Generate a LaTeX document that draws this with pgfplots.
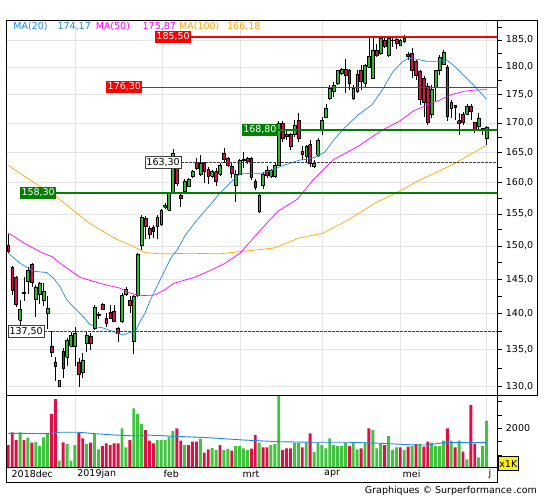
\documentclass[border=0pt]{standalone}
\usepackage{fontspec}
\setmainfont{DejaVu Sans}
\usepackage{pgfplots}
\usepackage{pgfplotstable}
\pgfplotsset{compat=1.18}
\definecolor{cgreen}{RGB}{50,185,50}
\definecolor{cred}{RGB}{214,16,64}
\definecolor{vgreen}{RGB}{64,196,64}
\definecolor{vred}{RGB}{220,16,70}
\definecolor{maA}{RGB}{30,136,229}
\definecolor{maB}{RGB}{255,0,255}
\definecolor{maC}{RGB}{255,165,0}
\definecolor{lvlgreen}{RGB}{0,128,0}
\definecolor{gridc}{RGB}{228,228,228}
\definecolor{dashc}{RGB}{64,64,64}
\newcommand{\fs}{\fontsize{9.5}{11}\selectfont}

\pgfplotstableread{
i o h l c
0 150.1 151.8 149.0 149.2
1 146.8 147.0 142.7 143.4
2 145.3 145.5 141.0 141.4
3 139.1 142.0 138.2 140.6
4 143.1 145.4 141.8 142.9
5 144.7 146.9 142.9 146.3
6 147.3 147.4 143.8 144.6
7 142.1 144.2 139.6 143.9
8 142.8 144.6 141.4 144.4
9 141.9 144.4 141.1 143.2
10 140.1 142.5 137.8 140.8
11 135.5 137.6 134.0 134.6
12 133.3 134.0 130.8 132.7
13 130.1 130.9 130.0 130.8
14 134.7 135.2 131.2 132.5
15 134.0 136.6 132.7 136.3
16 135.5 137.4 135.3 137.0
17 135.4 138.2 132.7 137.3
18 133.3 133.8 130.0 131.6
19 131.9 134.5 131.2 133.6
20 135.9 137.5 134.7 137.0
21 136.9 137.3 135.0 135.9
22 137.9 141.3 137.7 140.9
23 139.8 140.3 139.2 139.9
24 141.4 141.5 140.6 140.7
25 139.4 140.1 138.2 138.7
26 140.2 141.3 139.2 139.4
27 140.4 141.3 138.9 139.0
28 138.0 138.2 136.1 137.3
29 138.9 143.0 138.7 142.6
30 142.8 143.9 142.5 143.5
31 142.0 142.5 140.1 141.2
32 136.2 142.7 134.4 142.5
33 142.6 149.0 142.4 148.7
34 150.1 154.8 149.4 154.4
35 154.3 154.6 151.1 153.0
36 152.7 153.1 151.0 151.8
37 152.9 153.3 151.3 152.2
38 153.1 154.8 151.0 154.5
39 153.4 155.8 153.1 155.5
40 156.0 156.7 155.8 156.4
41 155.6 158.5 155.5 158.3
42 158.4 165.6 158.2 164.8
43 163.2 163.7 159.5 159.9
44 158.0 158.3 156.1 157.5
45 158.6 160.6 158.4 160.2
46 159.4 160.8 159.2 160.5
47 161.0 162.1 160.7 161.8
48 163.3 164.0 162.0 162.4
49 161.4 164.6 161.1 163.2
50 163.2 163.4 160.0 161.8
51 162.2 162.6 159.8 161.0
52 161.0 162.1 160.7 161.8
53 161.8 162.4 159.5 160.2
54 161.4 163.2 161.0 162.8
55 164.9 165.7 163.2 163.8
56 164.0 164.3 162.6 162.9
57 162.7 163.4 160.7 161.5
58 159.6 162.1 156.9 161.3
59 161.4 163.9 161.2 163.6
60 163.7 165.1 162.4 163.8
61 164.0 164.3 163.1 163.5
62 164.0 164.3 160.5 160.8
63 160.2 160.6 158.8 159.2
64 155.4 158.4 155.1 158.0
65 159.5 161.6 159.0 161.3
66 162.0 162.8 160.8 161.2
67 161.0 162.3 160.8 162.0
68 161.0 163.2 160.8 162.9
69 162.9 170.4 162.7 170.0
70 170.0 170.3 166.8 167.4
71 168.1 168.7 167.1 167.7
72 168.0 168.2 165.4 166.0
73 168.0 170.5 167.6 169.6
74 170.4 171.7 166.8 167.3
75 165.2 166.1 163.8 164.7
76 164.3 166.3 163.4 166.0
77 166.3 167.0 162.6 163.2
78 162.6 163.8 162.4 163.2
79 164.5 167.4 164.2 167.1
80 168.8 171.1 168.0 170.5
81 171.0 173.4 170.8 172.6
82 174.4 176.7 174.1 176.1
83 175.5 177.2 174.6 176.7
84 177.0 179.5 176.7 179.3
85 178.8 179.8 178.5 179.6
86 179.6 181.4 175.2 178.5
87 179.4 179.7 175.8 177.0
88 174.4 176.7 174.1 176.1
89 175.5 179.4 175.3 178.7
90 179.4 180.4 175.8 177.3
91 177.0 180.5 176.2 180.2
92 180.0 185.3 180.0 181.9
93 177.9 185.4 177.8 183.1
94 183.1 184.3 181.8 182.2
95 182.5 185.6 182.2 185.3
96 185.0 185.4 183.4 183.8
97 182.2 185.6 181.9 185.3
98 184.9 185.3 183.6 185.0
99 185.1 185.5 183.3 184.4
100 184.1 185.2 183.9 185.0
101 184.7 185.9 184.5 185.3
102 182.4 182.8 181.3 182.0
103 182.5 183.5 177.9 179.4
104 181.0 181.3 177.6 178.5
105 179.1 179.5 173.2 174.1
106 177.9 178.3 171.1 173.7
107 176.4 177.0 169.7 170.2
108 171.5 176.7 170.8 176.0
109 176.3 179.5 173.9 179.3
110 179.3 182.2 178.5 181.7
111 180.5 183.2 180.4 182.7
112 180.0 180.4 170.4 171.1
113 172.5 174.0 170.9 173.7
114 173.1 173.2 170.5 172.7
115 170.4 171.7 167.9 170.0
116 171.5 172.0 169.7 170.2
117 171.5 173.4 171.4 172.9
118 172.9 173.4 170.5 172.0
119 170.1 170.2 168.3 169.0
120 169.4 171.7 168.8 170.8
121 169.1 169.2 168.0 168.7
122 167.4 169.4 166.3 169.2
}\candles

\pgfplotstableread{
i g r
0 nan 1372
1 nan 1850
2 nan 1560
3 1850 nan
4 nan 1560
5 1647 nan
6 nan 1459
7 1485 nan
8 1334 nan
9 1662 nan
10 1812 nan
11 nan 2538
12 nan 3100
13 782 nan
14 nan 1474
15 1410 nan
16 782 nan
17 1372 nan
18 nan 1835
19 nan 1624
20 1410 nan
21 nan 1459
22 1786 nan
23 1210 nan
24 nan 1334
25 nan 1436
26 nan 1372
27 nan 1436
28 nan 1436
29 2000 nan
30 1286 nan
31 nan 1560
32 2752 nan
33 2538 nan
34 2162 nan
35 nan 1936
36 nan 1534
37 nan 1436
38 1560 nan
39 1560 nan
40 1560 nan
41 1684 nan
42 1898 nan
43 nan 2000
44 nan 1534
45 1372 nan
46 nan 1372
47 nan 1496
48 nan 1496
49 1598 nan
50 nan 1083
51 nan 1210
52 1250 nan
53 1184 nan
54 nan 1372
55 1184 nan
56 1222 nan
57 nan 1158
58 1334 nan
59 1334 nan
60 1248 nan
61 1184 nan
62 nan 1233
63 nan 1748
64 1459 nan
65 nan 1286
66 nan 1286
67 1372 nan
68 1410 nan
69 3214 nan
70 nan 1184
71 nan 1248
72 nan 1248
73 1459 nan
74 1459 nan
75 nan 1286
76 1459 nan
77 nan 1812
78 1109 nan
79 1459 nan
80 1372 nan
81 1248 nan
82 1624 nan
83 1372 nan
84 1334 nan
85 1334 nan
86 1459 nan
87 nan 1334
88 1459 nan
89 1210 nan
90 nan 1248
91 1459 nan
92 nan 2000
93 1936 nan
94 1248 nan
95 1436 nan
96 nan 1372
97 1710 nan
98 1184 nan
99 1286 nan
100 nan 1286
101 1184 nan
102 nan 1308
103 1334 nan
104 nan 1410
105 1410 nan
106 nan 1308
107 nan 1496
108 1459 nan
109 1334 nan
110 1334 nan
111 1534 nan
112 nan 2000
113 1534 nan
114 nan 1286
115 1534 nan
116 nan 1120
117 834 nan
118 nan 2876
119 nan 1410
120 910 nan
121 1334 nan
122 2286 nan
}\volumes

\begin{document}
\begin{tikzpicture}
\useasboundingbox (0,0) rectangle (545pt,500pt);
\fill[white] (0,0) rectangle (545pt,500pt);

% ---------------- price panel ----------------
\begin{axis}[
  at={(6.3pt,105pt)}, anchor=south west, scale only axis,
  width=491.4pt, height=375pt,
  xmin=-0.51, xmax=124.85,
  ymode=log, ymin=128.9, ymax=188.8,
  axis line style={black, line width=0.8pt},
  xtick={17.2,39.2,59.3,80.2,100.0,121.9}, xticklabels={},
  major x tick style={draw=none},
  xmajorgrids, ymajorgrids,
  grid style={gridc, line width=0.6pt},
  ytick={130,135,140,145,150,155,160,165,170,175,180,185},
  yticklabels={{130,0},{135,0},{140,0},{145,0},{150,0},{155,0},{160,0},{165,0},{170,0},{175,0},{180,0},{185,0}},
  minor ytick={132.5,137.5,142.5,147.5,152.5,157.5,162.5,167.5,172.5,177.5,182.5,187.5},
  ytick pos=right, yticklabel pos=right,
  tick align=outside, major tick length=4.7pt, minor tick length=4.7pt,
  ytick style={black, line width=0.6pt},
  yticklabel style={font=\fs, text=black},
]
\pgfplotsinvokeforeach{0,...,122}{%
  \pgfplotstablegetelem{#1}{o}\of\candles\let\vo\pgfplotsretval
  \pgfplotstablegetelem{#1}{h}\of\candles\let\vh\pgfplotsretval
  \pgfplotstablegetelem{#1}{l}\of\candles\let\vl\pgfplotsretval
  \pgfplotstablegetelem{#1}{c}\of\candles\let\vc\pgfplotsretval
  \pgfmathtruncatemacro\up{\vc>=\vo}%
  \ifnum\up=1 \def\fc{cgreen}\else\def\fc{cred}\fi
  \pgfmathsetmacro\xa{#1-0.36}%
  \pgfmathsetmacro\xb{#1+0.36}%
  \edef\temp{%
    \noexpand\addplot[black, line width=0.6pt, forget plot] coordinates {(#1,\vl) (#1,\vh)};%
    \noexpand\addplot[draw=black, line width=0.5pt, fill=\fc, forget plot] coordinates {(\xa,\vo) (\xb,\vo) (\xb,\vc) (\xa,\vc) (\xa,\vo)};%
  }\temp
}
% moving averages
\addplot[maC, line width=0.7pt] coordinates {(0,162.8) (6.8,159.9) (12.1,157.8) (20.1,153.8) (22.1,153.0) (27.1,151.2) (32.3,149.8) (34.9,149.0) (39.1,148.8) (46.7,148.9) (53.8,148.8) (60,149.2) (67.9,149.7) (74.1,151.2) (80.4,152.0) (86.6,154.0) (93.6,156.7) (99.8,158.6) (104.3,160.2) (109.6,161.8) (114,163.2) (118.5,164.9) (122,166.18)};
\addplot[maB, line width=0.7pt] coordinates {(0,152.0) (4.7,150.2) (8.9,148.9) (11.1,148.4) (13.2,147.4) (18.3,145.3) (23.4,144.4) (28.5,143.7) (31,143.0) (33.6,142.6) (37.4,142.7) (40,143.5) (42.2,144.4) (47.5,145.3) (51.1,146.2) (55,147.3) (59.1,148.9) (64.4,152.5) (68.8,155.4) (73.7,157.3) (77.7,160.4) (83,163.8) (89.2,166.0) (95.4,168.8) (99.8,170.3) (103.4,172.1) (107.8,173.4) (109.7,173.9) (113.1,175.0) (116.5,175.6) (119.1,175.8) (122,175.87)};
\addplot[maA, line width=0.7pt] coordinates {(0,148.9) (3,147.4) (6.4,146.2) (9.8,146.0) (11.5,145.2) (13.2,143.9) (14.9,142.0) (16.6,141.0) (19.1,139.6) (20.8,138.5) (22.1,138.2) (24.2,138.0) (27.7,137.3) (29.3,137.0) (30.7,137.3) (32.4,137.5) (33.6,138.9) (34.9,140.1) (36.1,141.8) (38.3,144.4) (40.4,146.9) (41.7,148.4) (43.1,149.4) (45.1,151.6) (47.6,153.6) (49.5,155.0) (51.9,156.7) (54,158.3) (57,160.2) (59.1,161.4) (61.7,161.5) (64.2,161.5) (66.8,161.9) (69.3,162.6) (71.9,163.2) (74.4,163.7) (76.9,163.9) (78.7,164.3) (80.8,165.1) (83,167.1) (85.7,169.1) (89.2,171.4) (92.8,173.2) (95.4,175.8) (98.1,179.1) (100.7,181.0) (102.1,181.6) (104.3,181.4) (106.9,181.0) (109.7,181.0) (111.8,181.3) (114,180.0) (116.5,178.2) (119.1,176.4) (122,174.17)};
% levels
\addplot[red, line width=2pt] coordinates {(46.66,185.5) (124.85,185.5)};
\addplot[red, line width=1.2pt] coordinates {(34.23,176.3) (124.85,176.3)};
\addplot[lvlgreen, line width=1.2pt] coordinates {(68.8,168.8) (124.85,168.8)};
\addplot[dashc, line width=0.7pt, dash pattern=on 2.5pt off 1.5pt] coordinates {(44.16,163.3) (124.85,163.3)};
\addplot[lvlgreen, line width=2.6pt] coordinates {(12.24,158.3) (124.85,158.3)};
\addplot[dashc, line width=0.7pt, dash pattern=on 2.5pt off 1.5pt] coordinates {(9.23,137.5) (124.85,137.5)};
\tikzset{lbl/.style={anchor=east, inner xsep=1.3pt, inner ysep=1.6pt, text height=7pt, text depth=2pt, font=\fs}}
\node[lbl, fill=red, text=white] at (axis cs:46.66,185.5) {185,50};
\node[lbl, fill=red, text=white] at (axis cs:34.23,176.3) {176,30};
\node[lbl, fill=lvlgreen, text=white] at (axis cs:68.8,168.8) {168,80};
\node[lbl, fill=white, draw=dashc, line width=0.8pt, text=black] at (axis cs:44.16,163.3) {163,30};
\node[lbl, fill=lvlgreen, text=white] at (axis cs:12.24,158.3) {158,30};
\node[lbl, fill=white, draw=dashc, line width=0.8pt, text=black] at (axis cs:9.23,137.5) {137,50};
\end{axis}

% ---------------- volume panel ----------------
\begin{axis}[
  at={(6.3pt,33pt)}, anchor=south west, scale only axis,
  width=491.4pt, height=72pt,
  xmin=-0.51, xmax=124.85, ymin=545, ymax=3252,
  axis line style={black, line width=0.8pt},
  xtick={17.2,39.2,59.3,80.2,100.0,121.9}, xticklabels={},
  major x tick style={draw=none},
  xmajorgrids, grid style={gridc, line width=0.6pt},
  ytick={1000,1500,2000,2500,3000}, yticklabels={,,2000,,},
  scaled y ticks=false,
  ytick pos=right, yticklabel pos=right,
  tick align=outside, major tick length=4.7pt,
  ytick style={black, line width=0.6pt},
  yticklabel style={font=\fs, text=black},
]
\addplot[ybar, bar width=2.9pt, bar shift=0pt, fill=vgreen, draw=none] table[x=i, y=g] {\volumes};
\addplot[ybar, bar width=2.9pt, bar shift=0pt, fill=vred, draw=none] table[x=i, y=r] {\volumes};
\addplot[maA, line width=0.9pt] coordinates {(0,1812) (10,1800) (13,1850) (18,1850) (22,1800) (27,1748) (33,1710) (35,1748) (41,1710) (45,1684) (51,1647) (60,1560) (69,1496) (78,1474) (87,1474) (95,1436) (104,1372) (107,1372) (111,1459) (115,1459) (122,1459)};
\end{axis}

% frame pieces, date strip, legend, footer
\draw[black, line width=0.8pt] (6.3pt,18pt) rectangle (497.7pt,33pt);
\draw[black, line width=0.8pt] (497.7pt,480pt) -- (537pt,480pt) -- (537pt,105pt) -- (497.7pt,105pt);
\begin{scope}[every node/.style={anchor=west, inner sep=0pt, font=\fs}]
\node at (11.5pt,26pt) {2018dec};
\node at (77.2pt,26pt) {2019jan};
\node at (163.4pt,26pt) {feb};
\node at (242.3pt,26pt) {mrt};
\node at (324pt,26pt) {apr};
\node at (402.5pt,26pt) {mei};
\node at (488.4pt,26pt) {j};
\node[text=maA] at (13.2pt,473pt) {MA(20)};
\node[text=maA] at (57.4pt,473pt) {174,17};
\node[text=maB] at (95.6pt,473pt) {MA(50)};
\node[text=maB] at (142.5pt,473pt) {175,87};
\node[text=maC] at (179pt,473pt) {MA(100)};
\node[text=maC] at (227pt,473pt) {166,18};
\end{scope}
\node[anchor=east, inner sep=0pt, font=\fs] at (537pt,9pt) {Graphiques © Surperformance\,.com};
\node[fill=yellow, draw=black, line width=0.6pt, anchor=south west, inner sep=0pt, minimum width=20.6pt, minimum height=14pt, font=\fs] at (497.7pt,29pt) {x1K};
\end{tikzpicture}
\end{document}
